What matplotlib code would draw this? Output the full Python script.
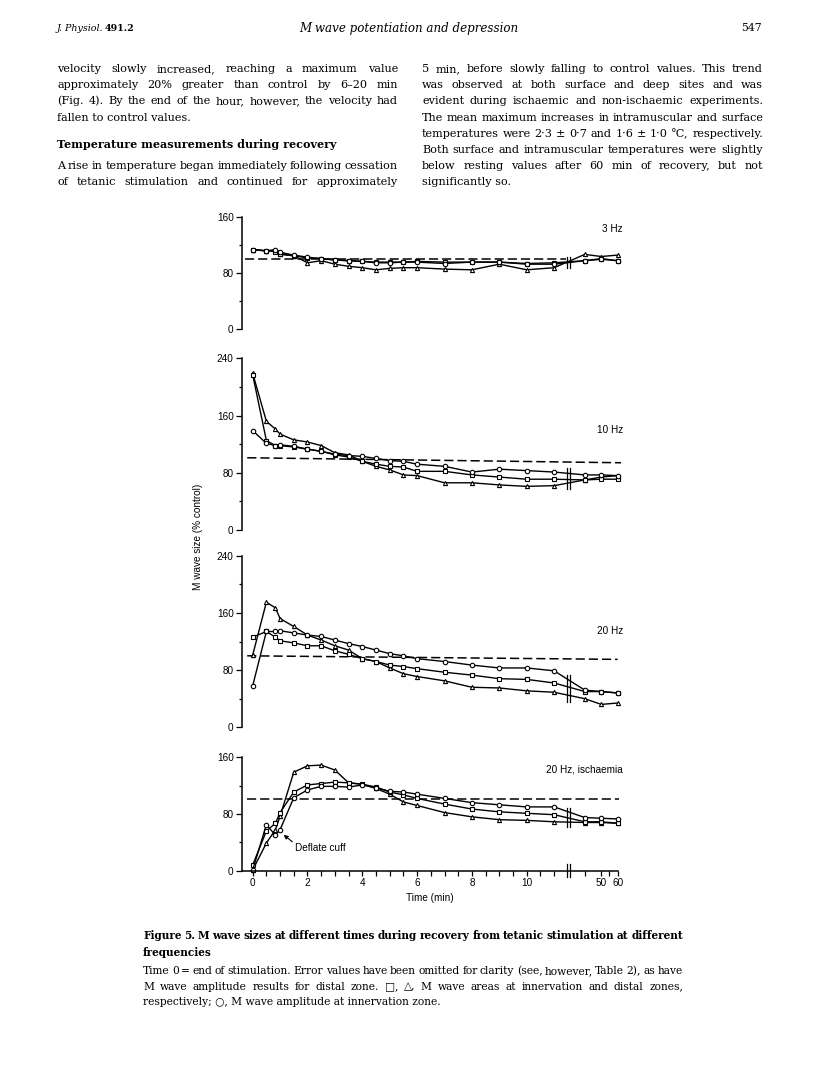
import numpy as np
import matplotlib
matplotlib.use('Agg')
import matplotlib.pyplot as plt
from matplotlib import transforms

# ---- data (% of control) ----
times = [0, 0.5, 0.83, 1, 1.5, 2, 2.5, 3, 3.5, 4, 4.5, 5, 5.5, 6, 7, 8, 9, 10, 11, 40, 50, 60]

hz3_square = [114, 112, 111, 108, 105, 102, 101, 99, 98, 97, 96, 96, 96, 97, 96, 96, 96, 94, 95, 98, 100, 98]
hz3_circle = [114, 112, 114, 110, 106, 103, 101, 99, 98, 97, 95, 95, 96, 96, 94, 96, 96, 93, 93, 98, 101, 98]
hz3_triangle = [114, 112, 112, 107, 105, 95, 98, 93, 90, 88, 85, 87, 88, 88, 86, 85, 93, 85, 88, 107, 104, 106]

hz10_square = [217, 125, 118, 118, 116, 113, 110, 105, 102, 96, 92, 89, 88, 82, 82, 77, 74, 71, 71, 70, 71, 71]
hz10_circle = [139, 121, 118, 119, 117, 113, 110, 106, 104, 103, 100, 97, 96, 92, 89, 81, 85, 83, 81, 77, 77, 76]
hz10_triangle = [219, 152, 141, 134, 126, 123, 118, 108, 105, 96, 89, 84, 77, 76, 66, 66, 63, 61, 62, 70, 74, 76]

hz20_square = [126, 134, 126, 121, 118, 114, 114, 107, 102, 96, 92, 87, 85, 82, 77, 73, 68, 67, 62, 50, 50, 48]
hz20_circle = [58, 134, 134, 135, 132, 129, 127, 122, 117, 113, 108, 103, 100, 96, 92, 87, 83, 83, 79, 52, 50, 48]
hz20_triangle = [101, 175, 167, 152, 141, 129, 122, 114, 108, 96, 92, 83, 75, 71, 65, 56, 55, 51, 49, 40, 32, 34]

isch_square = [8, 56, 67, 82, 111, 121, 123, 125, 124, 122, 118, 111, 107, 102, 94, 87, 83, 81, 79, 69, 69, 67]
isch_circle = [1, 65, 50, 58, 103, 114, 119, 119, 118, 121, 117, 112, 111, 108, 102, 96, 93, 90, 90, 75, 74, 73]
isch_triangle = [1, 39, 58, 77, 139, 148, 149, 142, 124, 122, 116, 108, 97, 92, 82, 76, 72, 71, 69, 68, 68, 67]

# control (dashed) line end points per panel
ctrl_x = [[-0.28, 11.45], [-0.2, 62], [-0.2, 60], [-0.2, 61]]
ctrl_y = [[100, 100], [101, 94], [100, 95], [101, 101]]

panel_names = ['3 Hz', '10 Hz', '20 Hz', '20 Hz, ischaemia']
panel_ymax = [160, 240, 240, 160]

# ---- page geometry (pixels) ----
W, H = 816, 1088
fig = plt.figure(figsize=(W / 100, H / 100), dpi=100)
renderer = fig.canvas.get_renderer()

SERIF = ['DejaVu Serif', 'DejaVu Sans']
SANS = 'Liberation Sans'


def fx(x):
    return x / W


def fy(y):
    return 1 - y / H


def put(x, y, s, **kw):
    return fig.text(fx(x), fy(y), s, **kw)


def word_widths(words, size, weight):
    out = []
    for w in words:
        t = put(0, 0, w, family=SERIF, fontsize=size, weight=weight)
        out.append(t.get_window_extent(renderer).width)
        t.remove()
    return out


def fit_size(width, lines, size, weight='normal'):
    # largest common size at which every justified line keeps a sensible gap
    best = size
    for line in lines:
        words = line.split(' ')
        n = max(len(words) - 1, 1)
        ww = sum(word_widths(words, size, weight))
        min_gap = 0.2 * size * 100 / 72
        best = min(best, size * (width - min_gap * n) / ww)
    return best


def justify(x0, x1, y, line, size, weight='normal'):
    words = line.split(' ')
    texts = [put(x0, y, w, va='baseline', family=SERIF, fontsize=size, weight=weight) for w in words]
    widths = [t.get_window_extent(renderer).width for t in texts]
    gap = (x1 - x0 - sum(widths)) / max(len(words) - 1, 1)
    x = x0
    for t, w in zip(texts, widths):
        t.set_x(fx(x))
        x += w + gap


def block(x0, x1, y0, step, lines, size, weight='normal', last_free=True):
    for i, line in enumerate(lines):
        y = y0 + i * step
        if last_free and i == len(lines) - 1:
            put(x0, y, line, va='baseline', family=SERIF, fontsize=size, weight=weight)
        else:
            justify(x0, x1, y, line, size, weight)


# ---- running head ----
jt = put(57, 31, 'J. Physiol.', va='baseline', family=SERIF, fontsize=6.8, style='italic')
jw = jt.get_window_extent(renderer).width
put(57 + jw + 1, 31, '491.2', va='baseline', family=SERIF, fontsize=6.8, weight='bold')
put(409, 32, 'M wave potentiation and depression', ha='center', va='baseline',
    family=SERIF, fontsize=8.6, style='italic')
put(762, 31, '547', ha='right', va='baseline', family=SERIF, fontsize=7.8)

# ---- body text ----
left_a = [
    'velocity slowly increased, reaching a maximum value',
    'approximately 20% greater than control by 6\u201320 min',
    '(Fig. 4). By the end of the hour, however, the velocity had',
    'fallen to control values.',
]
left_b = [
    'A rise in temperature began immediately following cessation',
    'of tetanic stimulation and continued for approximately',
]
right_lines = [
    '5 min, before slowly falling to control values. This trend',
    'was observed at both surface and deep sites and was',
    'evident during ischaemic and non-ischaemic experiments.',
    'The mean maximum increases in intramuscular and surface',
    'temperatures were 2\u00b73 \u00b1 0\u00b77 and 1\u00b76 \u00b1 1\u00b70 \u00b0C, respectively.',
    'Both surface and intramuscular temperatures were slightly',
    'below resting values after 60 min of recovery, but not',
    'significantly so.',
]
BODY = fit_size(341, left_a[:-1] + left_b + right_lines[:-1], 9.0)
block(57, 398, 72, 16.2, left_a, BODY)
put(57, 148, 'Temperature measurements during recovery', va='baseline',
    family=SERIF, fontsize=8, weight='bold')
block(57, 398, 169, 16.2, left_b, BODY, last_free=False)
block(422, 763, 72, 16.2, right_lines, BODY)

# ---- figure: broken time axis via a function scale ----
BRK, POST0 = 11.5, 12.12


def fwd(t):
    t = np.asarray(t, dtype=float)
    mid = BRK + (t - BRK) * (POST0 - BRK) / (40 - BRK)
    post = POST0 + (t - 40) * 0.06
    return np.where(t <= BRK, t, np.where(t < 40, mid, post))


def inv(u):
    u = np.asarray(u, dtype=float)
    mid = BRK + (u - BRK) * (40 - BRK) / (POST0 - BRK)
    post = 40 + (u - POST0) / 0.06
    return np.where(u <= BRK, u, np.where(u < POST0, mid, post))


AX_L, AX_R = 242, 617.7
panel_px = [(329.3, 217.3), (530.0, 358.3), (727.3, 555.7), (870.7, 757.3)]
break_y = [(88, 104), (58, 86), (36, 73), (61, 88)]
label_y = [229, 430, 631, 770]
series = [
    (hz3_square, hz3_circle, hz3_triangle),
    (hz10_square, hz10_circle, hz10_triangle),
    (hz20_square, hz20_circle, hz20_triangle),
    (isch_square, isch_circle, isch_triangle),
]

axes = []
for i, (y0, y1) in enumerate(panel_px):
    ax = fig.add_axes([fx(AX_L), fy(y0), (AX_R - AX_L) / W, (y0 - y1) / H])
    ax.set_xscale('function', functions=(fwd, inv))
    ax.set_xlim(-0.39, 60)
    ax.set_ylim(0, panel_ymax[i])
    ax.patch.set_alpha(0)
    for s in ('top', 'right'):
        ax.spines[s].set_visible(False)
    ax.spines['left'].set_linewidth(1.1)
    ax.set_yticks(np.arange(0, panel_ymax[i] + 1, 80))
    ax.set_yticks(np.arange(40, panel_ymax[i], 80), minor=True)
    ax.tick_params(axis='y', which='major', length=4, width=0.9, pad=2, labelsize=7.2)
    ax.tick_params(axis='y', which='minor', length=2, width=0.9)
    for lab in ax.get_yticklabels():
        lab.set_family(SANS)

    ax.plot(ctrl_x[i], ctrl_y[i], color='k', lw=1.1, ls=(0, (6, 2.6)), clip_on=False)

    sq, ci, tr = series[i]
    style = dict(color='k', lw=1.0, mfc='white', mec='k', mew=0.8, clip_on=False)
    ax.plot(times, tr, marker='^', ms=3.0, **style)
    ax.plot(times, sq, marker='s', ms=3.0, **style)
    ax.plot(times, ci, marker='o', ms=3.2, **style)

    # break marks
    bt = transforms.blended_transform_factory(ax.transAxes, ax.transData)
    for xp in (566.5, 570):
        xa = (xp - AX_L) / (AX_R - AX_L)
        ax.plot([xa, xa], list(break_y[i]), color='k', lw=0.9, transform=bt, clip_on=False)

    put(623, label_y[i] + 3, panel_names[i], ha='right', va='baseline', family=SANS, fontsize=7.2)

    if i < 3:
        ax.spines['bottom'].set_visible(False)
        ax.set_xticks([])
        ax.set_xticks([], minor=True)
    else:
        ax.spines['bottom'].set_linewidth(1.1)
        ax.set_xticks([0, 2, 4, 6, 8, 10, 50, 60])
        ax.set_xticklabels(['0', '2', '4', '6', '8', '10', '50', '60'], family=SANS)
        ax.set_xticks([0.5, 1, 1.5, 2.5, 3, 3.5, 4.5, 5, 5.5, 6.5, 7, 7.5, 8.5, 9,
                       9.5, 10.5, 11, 40, 55], minor=True)
        ax.tick_params(axis='x', which='both', length=3.5, width=0.9, pad=2, labelsize=7.2)
        ax.set_xlabel('Time (min)', family=SANS, fontsize=7.2, labelpad=3)
        for xp in (566.5, 570):
            xa = (xp - AX_L) / (AX_R - AX_L)
            ax.plot([xa, xa], [-9, 9], color='k', lw=0.9, transform=bt, clip_on=False)
        ax.annotate('Deflate cuff', xy=(1.05, 53), xytext=(1.55, 32),
                    ha='left', va='center', family=SANS, fontsize=7.2,
                    arrowprops=dict(arrowstyle='-|>', color='k', lw=0.8,
                                    mutation_scale=6, shrinkA=0, shrinkB=2,
                                    relpos=(0.0, 0.9)))
    axes.append(ax)

put(198, 537, 'M wave size (% control)', rotation=90, ha='center', va='center',
    family=SANS, fontsize=7.2)

# ---- caption ----
cap_bold = [
    'Figure 5. M wave sizes at different times during recovery from tetanic stimulation at different',
    'frequencies',
]
cap_text = [
    'Time 0 = end of stimulation. Error values have been omitted for clarity (see, however, Table 2), as have',
    'M wave amplitude results for distal zone. \u25a1, \u25b3, M wave areas at innervation and distal zones,',
    'respectively; \u25cb, M wave amplitude at innervation zone.',
]
CAP_B = fit_size(540, cap_bold[:1], 8.0, 'bold')
CAP = fit_size(540, cap_text[:2], 8.0)
block(143, 683, 939, 16.5, cap_bold, CAP_B, weight='bold')
block(143, 683, 974, 15.5, cap_text, CAP)

fig.savefig('out.png', dpi=100)
